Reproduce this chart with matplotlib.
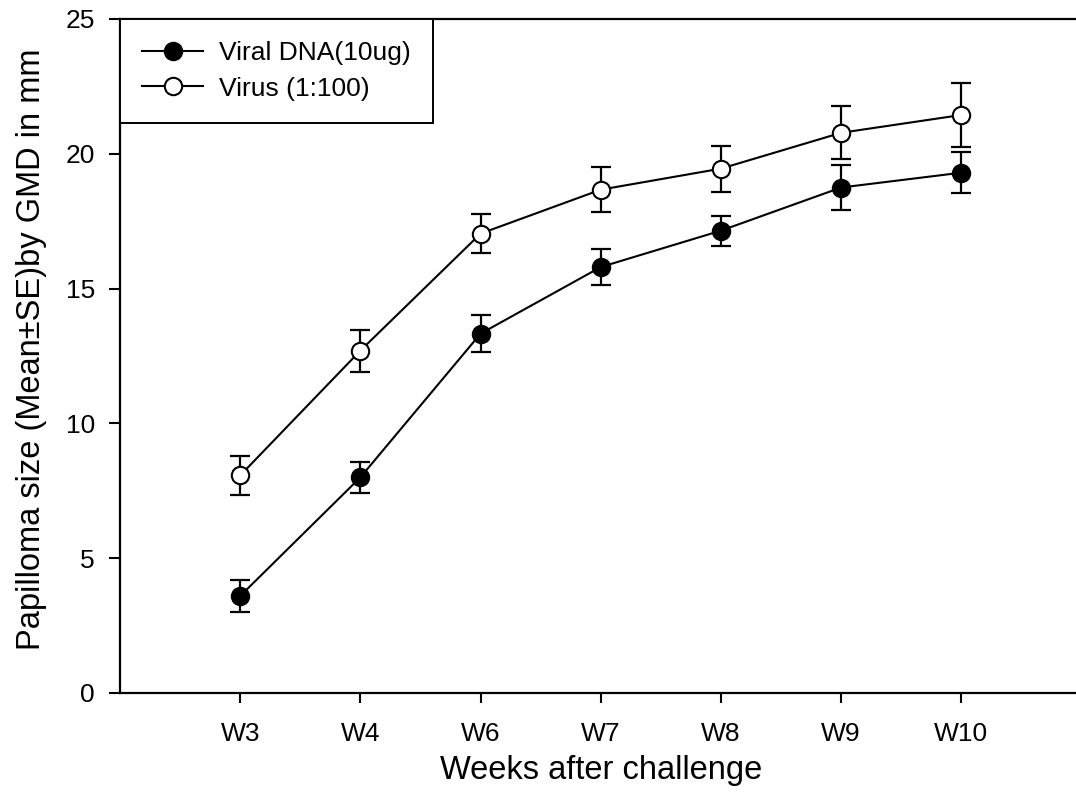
import numpy as np
import matplotlib
matplotlib.use('Agg')
import matplotlib.pyplot as plt

plt.rcParams['font.family'] = ['Liberation Sans', 'DejaVu Sans']

weeks = ['W3', 'W4', 'W6', 'W7', 'W8', 'W9', 'W10']
dna_mean = [3.6, 8.0, 13.33, 15.8, 17.15, 18.75, 19.3]
dna_se = [0.6, 0.57, 0.69, 0.68, 0.56, 0.82, 0.77]
virus_mean = [8.07, 12.7, 17.04, 18.67, 19.45, 20.78, 21.44]
virus_se = [0.71, 0.78, 0.72, 0.83, 0.85, 0.98, 1.2]

x = np.arange(len(weeks))

fig = plt.figure(figsize=(10.76, 8.09), dpi=100)
ax = fig.add_axes([120 / 1076, 116 / 809, 8 * 120.2 / 1076, 674 / 809])

for mean, se in [(dna_mean, dna_se), (virus_mean, virus_se)]:
    ax.errorbar(x, mean, yerr=se, fmt='none', ecolor='black', elinewidth=1.6,
                capsize=7.2, capthick=1.6, zorder=2)

ax.plot(x, dna_mean, '-o', color='black', lw=1.5, ms=12.5, mfc='black',
        mec='black', mew=1.5, zorder=3, label='Viral DNA(10ug)')
ax.plot(x, virus_mean, '-o', color='black', lw=1.5, ms=12.5, mfc='white',
        mec='black', mew=1.5, zorder=3, label='Virus (1:100)')

ax.set_xlim(-1, 7)
ax.set_ylim(0, 25)
ax.set_xticks(x)
ax.set_xticklabels(weeks)
ax.set_yticks([0, 5, 10, 15, 20, 25])
ax.tick_params(axis='x', direction='out', length=7, width=1.5, labelsize=19, pad=14)
ax.tick_params(axis='y', direction='out', length=8, width=1.5, labelsize=19, pad=10)
for s in ax.spines.values():
    s.set_linewidth(1.6)

ax.set_xlabel('Weeks after challenge', fontsize=23.5, labelpad=6)
ax.set_ylabel('Papilloma size (Mean\u00b1SE)by GMD in mm', fontsize=23.5)
ax.yaxis.set_label_coords(-0.076, 0.51)

leg = ax.legend(loc='upper left', bbox_to_anchor=(0, 1), bbox_transform=ax.transAxes,
                borderaxespad=0, fontsize=19, fancybox=False, framealpha=1,
                edgecolor='black', handlelength=2.3, handletextpad=0.6,
                labelspacing=0.42, borderpad=0.85)
leg.get_frame().set_linewidth(1.4)

fig.savefig('out.png', dpi=100)
